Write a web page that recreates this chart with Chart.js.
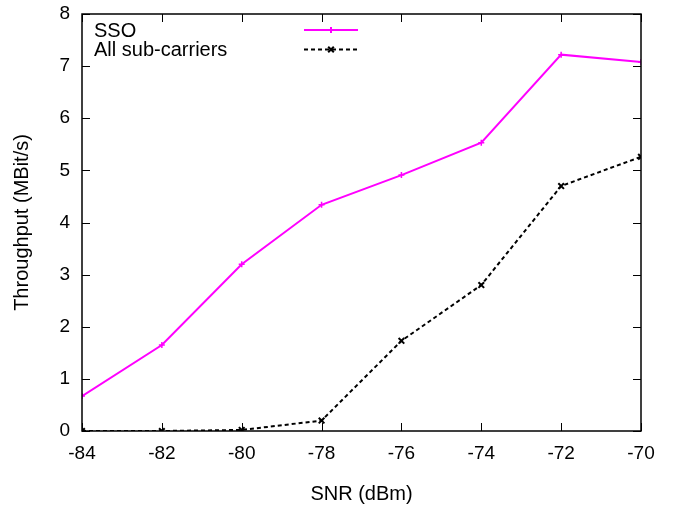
<!DOCTYPE html>
<html>
<head>
<meta charset="utf-8">
<script src="https://cdn.jsdelivr.net/npm/chart.js@4/dist/chart.umd.min.js"></script>
<style>
    html, body { margin: 0; padding: 0; background: #fff; }
    #wrap { width: 678px; height: 506px; }
</style>
</head>
<body>
<div id="wrap"><canvas id="grafico"></canvas></div>
<script>
// datos
const snr = [-84, -82, -80, -78, -76, -74, -72, -70];
const sso = [0.67, 1.65, 3.2, 4.34, 4.91, 5.53, 7.22, 7.08];
const todas = [0.0, 0.0, 0.02, 0.2, 1.73, 2.8, 4.7, 5.26];
const yTicks = [0, 1, 2, 3, 4, 5, 6, 7, 8];
const etiquetas = ['SSO', 'All sub-carriers'];

const familia = '"Liberation Sans", Arial, sans-serif';
const fuenteTicks = { family: familia, size: 19 };
const fuenteTitulo = { family: familia, size: 20 };

function puntos(ys) {
    return snr.map((x, i) => ({ x: x, y: ys[i] }));
}

// ticks hacia adentro en los cuatro lados, estilo gnuplot
const ticksAdentro = {
    id: 'ticksAdentro',
    afterDatasetsDraw(chart) {
        const ctx = chart.ctx;
        const a = chart.chartArea;
        const sx = chart.scales.x;
        const sy = chart.scales.y;
        ctx.save();
        ctx.strokeStyle = '#000';
        ctx.lineWidth = 1;
        ctx.beginPath();
        for (const v of snr) {
            const px = Math.round(sx.getPixelForValue(v)) + 0.5;
            ctx.moveTo(px, a.bottom); ctx.lineTo(px, a.bottom - 8);
            ctx.moveTo(px, a.top); ctx.lineTo(px, a.top + 8);
        }
        for (const v of yTicks) {
            const py = Math.round(sy.getPixelForValue(v)) + 0.5;
            ctx.moveTo(a.left, py); ctx.lineTo(a.left + 8, py);
            ctx.moveTo(a.right, py); ctx.lineTo(a.right - 8, py);
        }
        ctx.stroke();
        ctx.lineWidth = 1.5;
        ctx.strokeRect(a.left, a.top, a.right - a.left, a.bottom - a.top);
        ctx.restore();
    }
};

// leyenda: texto a la izquierda, muestra de linea a la derecha
const leyenda = {
    id: 'leyenda',
    afterDatasetsDraw(chart) {
        const ctx = chart.ctx;
        ctx.save();
        ctx.font = '20px ' + familia;
        ctx.textBaseline = 'middle';
        ctx.fillStyle = '#000';
        chart.data.datasets.forEach((ds, i) => {
            const y = 30 + i * 19.5;
            ctx.fillText(ds.label, 94, y + 1);
            ctx.strokeStyle = ds.borderColor;
            ctx.lineWidth = ds.borderWidth;
            ctx.setLineDash(ds.borderDash || []);
            ctx.beginPath();
            ctx.moveTo(304, y);
            ctx.lineTo(358, y);
            ctx.stroke();
            ctx.setLineDash([]);
            Chart.helpers.drawPoint(ctx, {
                pointStyle: ds.pointStyle,
                radius: ds.pointRadius,
                borderWidth: ds.pointBorderWidth,
                rotation: 0
            }, 331, y);
        });
        ctx.restore();
    }
};

new Chart(document.getElementById('grafico'), {
    type: 'line',
    data: {
        datasets: [{
            label: etiquetas[0],
            data: puntos(sso),
            borderColor: '#ff00ff',
            backgroundColor: '#ff00ff',
            borderWidth: 2,
            pointStyle: 'cross',
            pointRadius: 3,
            pointBorderWidth: 1.5,
            tension: 0
        }, {
            label: etiquetas[1],
            data: puntos(todas),
            borderColor: '#000000',
            backgroundColor: '#000000',
            borderWidth: 2,
            borderDash: [4, 3],
            pointStyle: 'crossRot',
            pointRadius: 4,
            pointBorderWidth: 2,
            tension: 0
        }]
    },
    options: {
        responsive: true,
        maintainAspectRatio: false,
        animation: false,
        layout: { padding: { left: 0, top: 14, right: 37, bottom: 0 } },
        plugins: {
            legend: { display: false },
            tooltip: { enabled: false }
        },
        scales: {
            x: {
                type: 'linear',
                min: -84,
                max: -70,
                afterFit(scale) {
                    scale.height = 75;
                    scale.paddingLeft = 0;
                    scale.paddingRight = 0;
                },
                afterBuildTicks(scale) { scale.ticks = snr.map(v => ({ value: v })); },
                grid: { display: false, drawTicks: false },
                border: { display: false },
                ticks: { color: '#000', font: fuenteTicks, padding: 11, maxRotation: 0 },
                title: {
                    display: true,
                    text: 'SNR (dBm)',
                    color: '#000',
                    font: fuenteTitulo,
                    padding: { top: 0, bottom: 0 }
                }
            },
            y: {
                min: 0,
                max: 8,
                afterFit(scale) {
                    scale.width = 82;
                    scale.paddingTop = 0;
                    scale.paddingBottom = 0;
                },
                afterBuildTicks(scale) { scale.ticks = yTicks.map(v => ({ value: v })); },
                grid: { display: false, drawTicks: false },
                border: { display: false },
                ticks: { color: '#000', font: fuenteTicks, padding: 12 },
                title: {
                    display: true,
                    text: 'Throughput (MBit/s)',
                    color: '#000',
                    font: fuenteTitulo,
                    padding: { top: 10, bottom: 0 }
                }
            }
        }
    },
    plugins: [ticksAdentro, leyenda]
});
</script>
</body>
</html>
